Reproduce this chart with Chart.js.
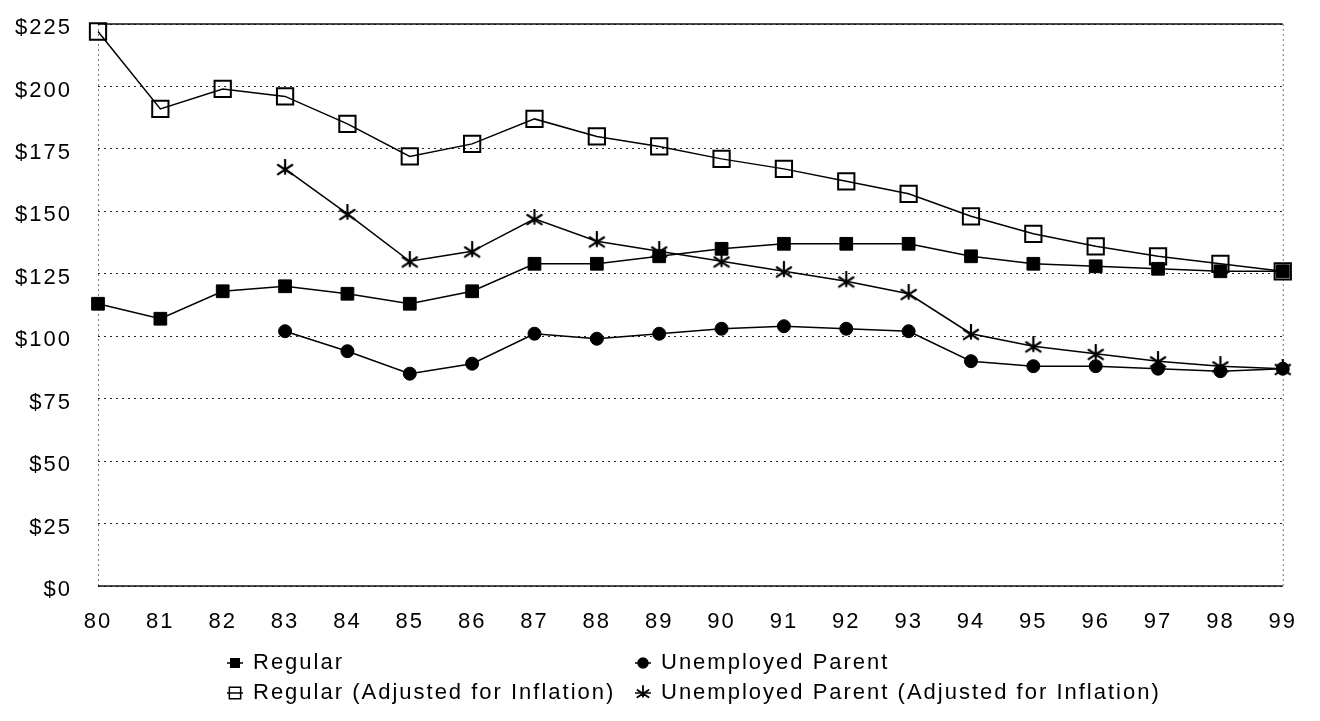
<!DOCTYPE html>
<html>
<head>
<meta charset="utf-8">
<script src="https://cdn.jsdelivr.net/npm/chart.js@4/dist/chart.umd.min.js"></script>
<style>
  html, body { margin: 0; padding: 0; background: #fff; }
  #wrap { position: relative; width: 1320px; height: 721px; }
</style>
</head>
<body>
<div id="wrap"><canvas id="chart" width="1320" height="721"></canvas></div>
<script>
// benefit per month, 1980-1999
const years = ["80", "81", "82", "83", "84", "85", "86", "87", "88", "89",
               "90", "91", "92", "93", "94", "95", "96", "97", "98", "99"];

const regular = [113, 107, 118, 120, 117, 113, 118, 129, 129, 132,
                 135, 137, 137, 137, 132, 129, 128, 127, 126, 126];

const unemployedParent = [null, null, null, 102, 94, 85, 89, 101, 99, 101,
                          103, 104, 103, 102, 90, 88, 88, 87, 86, 87];

const regularAdjusted = [222, 191, 199, 196, 185, 172, 177, 187, 180, 176,
                         171, 167, 162, 157, 148, 141, 136, 132, 129, 126];

const unemployedAdjusted = [null, null, null, 167, 149, 130, 134, 147, 138, 134,
                            130, 126, 122, 117, 101, 96, 93, 90, 88, 87];

const seriesNames = ["Regular", "Unemployed Parent",
                     "Regular (Adjusted for Inflation)", "Unemployed Parent (Adjusted for Inflation)"];

const yTickValues = [0, 25, 50, 75, 100, 125, 150, 175, 200, 225];

const FONT = "'Liberation Sans', Arial, sans-serif";

// asterisk marker: an X with a vertical bar through it
function makeStar(size, lw) {
  const c = document.createElement("canvas");
  c.width = size;
  c.height = size;
  const g = c.getContext("2d");
  const m = size / 2;
  const r = size / 2 - 1;
  const d = r * 0.8;
  g.strokeStyle = "#000";
  g.lineWidth = lw;
  g.lineCap = "round";
  g.beginPath();
  g.moveTo(m, m - r); g.lineTo(m, m + r * 0.55);
  g.moveTo(m - d, m - d * 0.55); g.lineTo(m + d, m + d * 0.75);
  g.moveTo(m + d, m - d * 0.55); g.lineTo(m - d, m + d * 0.75);
  g.stroke();
  return c;
}
const starMarker = makeStar(20, 2.2);
const starSmall = makeStar(16, 1.8);

const spacing = {
  id: "spacing",
  beforeUpdate(chart) { chart.ctx.letterSpacing = "2px"; },
  beforeDraw(chart) { chart.ctx.letterSpacing = "2px"; }
};

// plot frame: solid top and bottom, dotted sides
const frame = {
  id: "frame",
  beforeDatasetsDraw(chart) {
    const { ctx, chartArea: a } = chart;
    ctx.save();
    ctx.strokeStyle = "#777";
    ctx.lineWidth = 1;
    ctx.setLineDash([2, 3]);
    ctx.beginPath();
    ctx.moveTo(a.left + 0.5, a.top); ctx.lineTo(a.left + 0.5, a.bottom);
    ctx.moveTo(a.right + 0.5, a.top); ctx.lineTo(a.right + 0.5, a.bottom);
    ctx.stroke();
    ctx.setLineDash([]);
    ctx.strokeStyle = "#111";
    ctx.lineWidth = 1.5;
    ctx.beginPath();
    ctx.moveTo(a.left, a.top); ctx.lineTo(a.right, a.top);
    ctx.moveTo(a.left, a.bottom); ctx.lineTo(a.right, a.bottom);
    ctx.stroke();
    ctx.restore();
  }
};

// two-column legend under the axis
const legendGrid = {
  id: "legendGrid",
  afterDraw(chart) {
    const ctx = chart.ctx;
    const cols = [235, 643];
    const rows = [663, 693];
    const marks = [
      { pointStyle: "rect", radius: 6, fill: "#000" },
      { pointStyle: "circle", radius: 5, fill: "#000" },
      { pointStyle: "rect", radius: 8, fill: "rgba(0,0,0,0)" },
      { pointStyle: starSmall, radius: 8, fill: "#000" }
    ];
    ctx.save();
    ctx.letterSpacing = "2px";
    ctx.font = "22px " + FONT;
    ctx.textBaseline = "middle";
    ctx.fillStyle = "#000";
    seriesNames.forEach((name, i) => {
      const x = cols[i % 2];
      const y = rows[Math.floor(i / 2)];
      ctx.strokeStyle = "#000";
      ctx.lineWidth = 1.5;
      ctx.beginPath();
      ctx.moveTo(x - 8, y); ctx.lineTo(x + 8, y);
      ctx.stroke();
      ctx.fillStyle = marks[i].fill;
      Chart.helpers.drawPoint(ctx, {
        pointStyle: marks[i].pointStyle, radius: marks[i].radius,
        rotation: 0, borderWidth: 1.5
      }, x, y);
      ctx.fillStyle = "#000";
      ctx.fillText(name, x + 18, y);
    });
    ctx.restore();
  }
};

function lineSet(label, data, style, radius, fill, borderW) {
  return {
    label: label,
    data: data,
    borderColor: "#000",
    borderWidth: 1.5,
    pointStyle: style,
    pointRadius: radius,
    pointBackgroundColor: fill,
    pointBorderColor: "#000",
    pointBorderWidth: borderW,
    tension: 0,
    spanGaps: false,
    clip: false
  };
}

new Chart(document.getElementById("chart"), {
  type: "line",
  data: {
    labels: years,
    datasets: [
      lineSet(seriesNames[0], regular, "rect", 9, "#000", 1),
      lineSet(seriesNames[1], unemployedParent, "circle", 6.5, "#000", 1),
      lineSet(seriesNames[2], regularAdjusted, "rect", 11.5, "rgba(0,0,0,0)", 2),
      lineSet(seriesNames[3], unemployedAdjusted, starMarker, 10, "#000", 1)
    ]
  },
  options: {
    responsive: false,
    animation: false,
    layout: { autoPadding: false, padding: { left: 0, right: 36, top: 24, bottom: 85 } },
    plugins: {
      legend: { display: false },
      tooltip: { enabled: false }
    },
    scales: {
      x: {
        offset: false,
        grid: { display: false, drawTicks: false },
        border: { display: false },
        ticks: {
          color: "#000",
          padding: 23,
          maxRotation: 0,
          autoSkip: false,
          font: { family: FONT, size: 22 }
        },
        afterFit(scale) { scale.height = 50; }
      },
      y: {
        min: 0,
        max: 225,
        afterBuildTicks(scale) {
          scale.ticks = yTickValues.map(v => ({ value: v }));
        },
        grid: { color: "#222", lineWidth: 1, drawTicks: false },
        border: { display: false, dash: [2, 4] },
        ticks: {
          color: "#000",
          padding: 26,
          labelOffset: 4,
          font: { family: FONT, size: 22 },
          callback: v => "$" + v
        },
        afterFit(scale) {
          scale.width = 98;
          scale.paddingTop = 0;
          scale.paddingBottom = 0;
        }
      }
    }
  },
  plugins: [spacing, frame, legendGrid]
});
</script>
</body>
</html>
